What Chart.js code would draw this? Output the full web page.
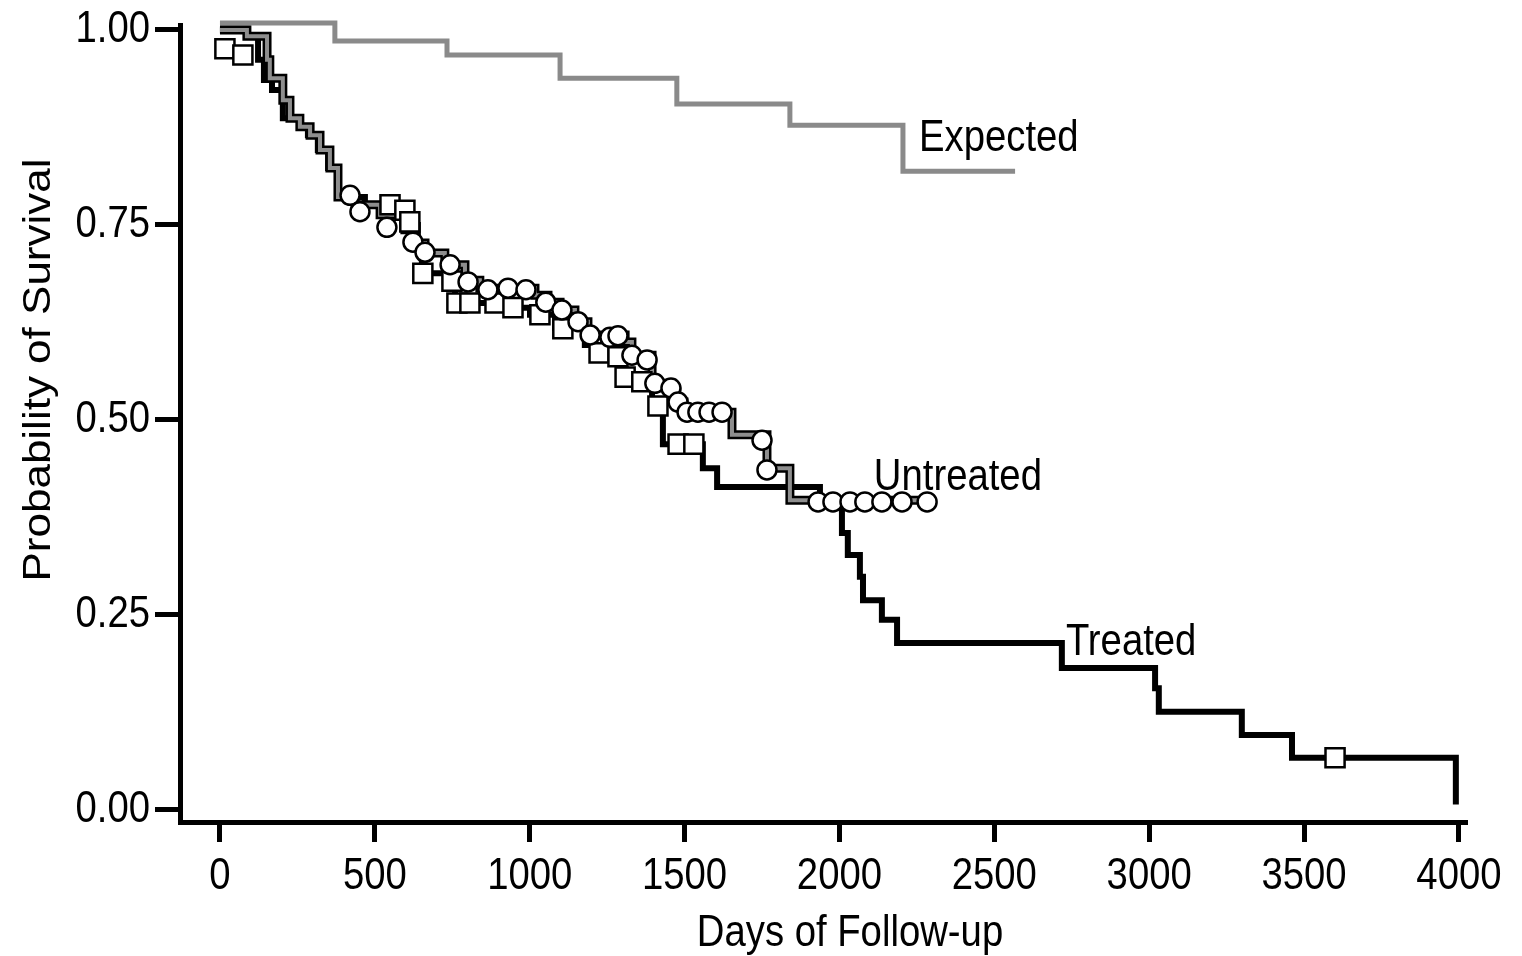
<!DOCTYPE html>
<html>
<head>
<meta charset="utf-8">
<title>Survival</title>
<script src="https://cdn.jsdelivr.net/npm/chart.js@4.4.1/dist/chart.umd.min.js"></script>
<style>
  body { margin: 0; background: #fff; }
  canvas { display: block; }
</style>
</head>
<body>
<canvas id="km" width="1522" height="956"></canvas>
<script>
// axis ticks
var xTicks = [0, 500, 1000, 1500, 2000, 2500, 3000, 3500, 4000];
var yTicks = [0, 0.25, 0.5, 0.75, 1];

// expected survival (yearly steps)
var expectedDays = [0, 371, 733, 1098, 1475, 1840, 2205, 2567];
var expectedSurv = [1.009, 0.986, 0.968, 0.938, 0.905, 0.878, 0.819, 0.819];

// treated: day of each drop and survival after it
var treatedDays = [0, 87, 123, 142, 168, 203, 258, 284, 316, 349, 378, 468, 575, 613, 639, 652,
  726, 759, 920, 1001, 1082, 1178, 1217, 1298, 1356, 1395, 1430, 1559, 1605, 1937, 2008, 2027,
  2066, 2076, 2137, 2186, 2718, 3019, 3031, 3299, 3461, 3990];
var treatedSurv = [1.0, 0.992, 0.962, 0.936, 0.923, 0.887, 0.876, 0.865, 0.846, 0.823, 0.786, 0.776,
  0.767, 0.750, 0.718, 0.688, 0.677, 0.650, 0.644, 0.635, 0.618, 0.596, 0.586, 0.555, 0.547, 0.518,
  0.469, 0.438, 0.414, 0.394, 0.355, 0.327, 0.299, 0.269, 0.244, 0.214, 0.182, 0.156, 0.126, 0.096,
  0.067, 0.007];

// untreated
var untreatedDays = [0, 87, 152, 161, 203, 226, 258, 291, 323, 355, 381, 436, 517, 597, 630, 662,
  726, 791, 839, 1017, 1059, 1098, 1146, 1188, 1308, 1330, 1395, 1459, 1475, 1498, 1653, 1766,
  1840, 2292];
var untreatedSurv = [1.0, 0.992, 0.962, 0.938, 0.910, 0.887, 0.876, 0.865, 0.846, 0.823, 0.786, 0.776,
  0.763, 0.744, 0.727, 0.714, 0.699, 0.679, 0.669, 0.660, 0.651, 0.641, 0.626, 0.609, 0.600, 0.583,
  0.547, 0.536, 0.523, 0.510, 0.481, 0.438, 0.397, 0.397];

// censored patients
var treatedCensDays = [16, 74, 549, 597, 613, 655, 749, 765, 807, 888, 946, 1033, 1107, 1224, 1285,
  1308, 1362, 1414, 1479, 1530, 3600];
var treatedCensSurv = [0.976, 0.968, 0.776, 0.769, 0.754, 0.688, 0.678, 0.650, 0.650, 0.650, 0.644,
  0.635, 0.617, 0.586, 0.581, 0.555, 0.549, 0.518, 0.469, 0.469, 0.067];

var untreatedCensDays = [420, 452, 539, 623, 662, 743, 801, 865, 930, 988, 1052, 1104, 1156, 1195,
  1259, 1285, 1330, 1379, 1404, 1456, 1479, 1508, 1543, 1579, 1621, 1750, 1766, 1931, 1979, 2034,
  2082, 2137, 2202, 2283];
var untreatedCensSurv = [0.788, 0.767, 0.747, 0.728, 0.715, 0.699, 0.677, 0.667, 0.669, 0.667, 0.651,
  0.641, 0.626, 0.609, 0.606, 0.608, 0.583, 0.577, 0.547, 0.541, 0.523, 0.510, 0.510, 0.510, 0.510,
  0.474, 0.436, 0.395, 0.395, 0.395, 0.395, 0.395, 0.395, 0.395];

var FONT = '44px "Liberation Sans", Arial, Helvetica, sans-serif';
var SQUEEZE = 0.87; // the original figure is narrowed horizontally

function pts(xs, ys) {
  return xs.map(function (x, i) { return { x: x, y: ys[i] }; });
}

function stepLine(data, color, width, order) {
  return {
    data: data,
    showLine: true,
    stepped: 'before',
    borderColor: color,
    borderWidth: width,
    borderJoinStyle: 'miter',
    pointRadius: 0,
    clip: false,
    order: order
  };
}

// curve names, placed in data coordinates
var curveNotes = [
  { text: 'Expected', day: 2257, surv: 0.845 },
  { text: 'Untreated', day: 2111, surv: 0.410 },
  { text: 'Treated', day: 2731, surv: 0.199 }
];

function squeezed(ctx, text, x, y, align, baseline, rot) {
  ctx.save();
  ctx.translate(x, y);
  ctx.scale(SQUEEZE, 1);
  if (rot) ctx.rotate(rot);
  ctx.textAlign = align;
  ctx.textBaseline = baseline;
  ctx.fillText(text, 0, 0);
  ctx.restore();
}

var textPlugin = {
  id: 'kmText',
  afterDraw: function (chart) {
    var ctx = chart.ctx;
    var xs = chart.scales.x, ys = chart.scales.y;
    ctx.save();
    ctx.fillStyle = '#000';
    ctx.font = FONT;

    xs.ticks.forEach(function (t) {
      squeezed(ctx, String(t.value), xs.getPixelForValue(t.value), 889, 'center', 'alphabetic');
    });
    ys.ticks.forEach(function (t) {
      squeezed(ctx, t.value.toFixed(2), 150, ys.getPixelForValue(t.value), 'right', 'middle');
    });

    curveNotes.forEach(function (n) {
      squeezed(ctx, n.text, xs.getPixelForValue(n.day), ys.getPixelForValue(n.surv), 'left', 'alphabetic');
    });

    squeezed(ctx, 'Days of Follow-up', 850, 946, 'center', 'alphabetic');
    squeezed(ctx, 'Probability of Survival', 50, 370, 'center', 'alphabetic', -Math.PI / 2);
    ctx.restore();
  }
};

var tickMarks = function (len) {
  return { drawOnChartArea: false, drawTicks: true, tickLength: len, tickWidth: 5, tickColor: '#000' };
};

new Chart(document.getElementById('km'), {
  type: 'scatter',
  data: {
    datasets: [
      {
        data: pts(untreatedCensDays, untreatedCensSurv),
        pointStyle: 'circle',
        pointRadius: 9.5,
        pointBackgroundColor: '#fff',
        pointBorderColor: '#000',
        pointBorderWidth: 2.5,
        clip: false,
        order: 0
      },
      {
        data: pts(treatedCensDays, treatedCensSurv),
        pointStyle: 'rect',
        pointRadius: 13.5,
        pointBackgroundColor: '#fff',
        pointBorderColor: '#000',
        pointBorderWidth: 2.5,
        clip: false,
        order: 1
      },
      stepLine(pts(untreatedDays, untreatedSurv), '#8e8e8e', 4, 2),
      stepLine(pts(untreatedDays, untreatedSurv), '#000', 9, 3),
      stepLine(pts(treatedDays, treatedSurv), '#000', 6, 4),
      stepLine(pts(expectedDays, expectedSurv), '#8a8a8a', 5, 5)
    ]
  },
  options: {
    responsive: false,
    animation: false,
    events: [],
    layout: { padding: { top: 25, right: 55, left: 0, bottom: 0 } },
    plugins: {
      legend: { display: false },
      tooltip: { enabled: false }
    },
    scales: {
      x: {
        type: 'linear',
        min: -129,
        max: 4026,
        afterBuildTicks: function (s) { s.ticks = xTicks.map(function (v) { return { value: v }; }); },
        afterFit: function (s) { s.height = 134; s.paddingLeft = 0; s.paddingRight = 0; },
        ticks: { display: false },
        grid: tickMarks(20),
        border: { display: true, color: '#000', width: 5 }
      },
      y: {
        type: 'linear',
        min: -0.0154,
        max: 1.0064,
        afterBuildTicks: function (s) { s.ticks = yTicks.map(function (v) { return { value: v }; }); },
        afterFit: function (s) { s.width = 180; s.paddingTop = 0; s.paddingBottom = 0; },
        ticks: { display: false },
        grid: tickMarks(25),
        border: { display: true, color: '#000', width: 5 }
      }
    }
  },
  plugins: [textPlugin]
});
</script>
</body>
</html>
